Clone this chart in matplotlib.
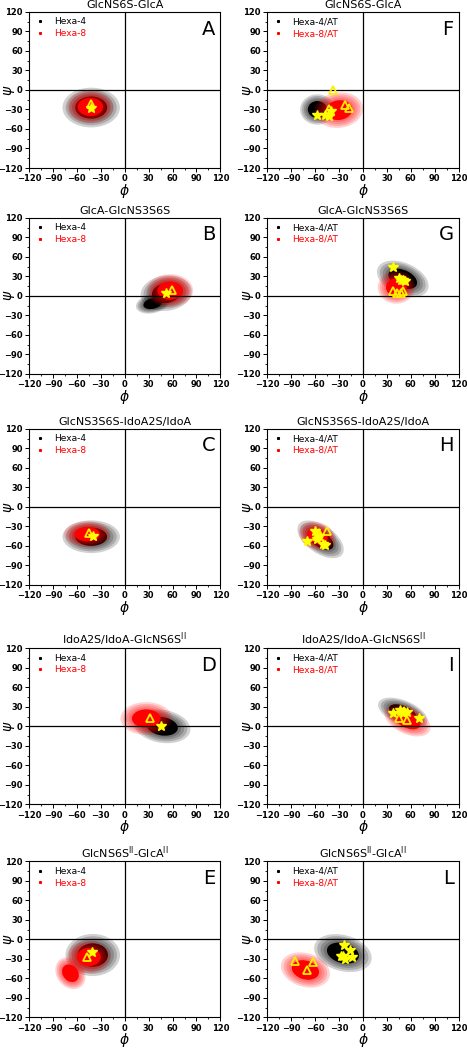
import matplotlib
matplotlib.use("Agg")
import matplotlib.pyplot as plt
from matplotlib.patches import Ellipse
from matplotlib.lines import Line2D

# panel order: A, B, C, D, E (left column), F, G, H, I, L (right column)
letters = ["A", "B", "C", "D", "E", "F", "G", "H", "I", "L"]
titles = ["GlcNS6S-GlcA", "GlcA-GlcNS3S6S", "GlcNS3S6S-IdoA2S/IdoA",
          r"IdoA2S/IdoA-GlcNS6S$^{\mathrm{II}}$", r"GlcNS6S$^{\mathrm{II}}$-GlcA$^{\mathrm{II}}$"] * 2
legend_left = ["Hexa-4", "Hexa-8"]
legend_right = ["Hexa-4/AT", "Hexa-8/AT"]

# clouds: (phi centre, psi centre, phi dense half-width, psi dense half-width, tilt deg)
black_clouds = [
    [(-42, -27, 20, 17, 0)],
    [(52, 4, 18, 15, 15), (35, -12, 12, 8, 20)],
    [(-42, -46, 20, 14, 0)],
    [(47, 0, 20, 14, -15)],
    [(-40, -24, 19, 18, 0)],
    [(-57, -30, 12, 13, 0)],
    [(50, 26, 20, 13, -35)],
    [(-53, -50, 20, 11, -45)],
    [(50, 21, 19, 10, -30)],
    [(-25, -21, 21, 15, -25)],
]
red_clouds = [
    [(-43, -26, 16, 14, 0)],
    [(57, 8, 16, 14, 0)],
    [(-47, -42, 16, 11, 0)],
    [(27, 12, 18, 14, 0)],
    [(-45, -27, 15, 14, 0), (-68, -52, 10, 14, 20)],
    [(-30, -31, 17, 15, 20)],
    [(42, 13, 13, 14, 0)],
    [(-57, -45, 14, 11, -40)],
    [(56, 9, 18, 11, -35)],
    [(-72, -47, 18, 14, -30)],
]
star_phi = [[-42], [52], [-40], [45], [-41],
            [-58, -48, -43, -40], [38, 45, 50, 53, 48],
            [-70, -60, -57, -50, -47, -55], [38, 46, 50, 55, 70],
            [-24, -16, -25, -23, -14, -27]]
star_psi = [[-27], [5], [-45], [1], [-19],
            [-38, -38, -40, -33], [45, 27, 25, 23, 24],
            [-52, -37, -50, -57, -58, -45], [21, 25, 20, 22, 12],
            [-8, -17, -25, -30, -27, -26]]
tri_phi = [[-42], [59], [-45], [32], [-47],
           [-37, -23, -17, -42], [38, 43, 48, 50],
           [-55, -45, -58], [45, 55, 52],
           [-85, -63, -70]]
tri_psi = [[-22], [9], [-40], [12], [-27],
           [0, -23, -27, -30], [7, 5, 5, 8],
           [-40, -37, -45], [12, 10, 23],
           [-33, -35, -47]]

lefts = [0.062, 0.572]
bottoms = [0.840, 0.644, 0.443, 0.234, 0.031]
w, h = 0.41, 0.1486

fringe = [1.8, 1.6, 1.4, 1.2]


def draw_cloud(ax, clouds, color):
    for cx, cy, sx, sy, ang in clouds:
        for s in fringe:
            ax.add_patch(Ellipse((cx, cy), 2 * sx * s, 2 * sy * s, angle=ang,
                                 facecolor=color, edgecolor="none", alpha=0.18))
        ax.add_patch(Ellipse((cx, cy), 2 * sx, 2 * sy, angle=ang,
                             facecolor=color, edgecolor="none", alpha=1.0))


fig = plt.figure(figsize=(4.67, 10.5), dpi=100)

for i in range(10):
    col = i // 5
    row = i % 5
    ax = fig.add_axes([lefts[col], bottoms[row], w, h])
    draw_cloud(ax, black_clouds[i], "black")
    draw_cloud(ax, red_clouds[i], "#ff0000")
    ax.axhline(0, color="black", lw=0.9)
    ax.axvline(0, color="black", lw=0.9)
    ax.plot(tri_phi[i], tri_psi[i], "^", ms=6, mfc="none", mec="#ffee00", mew=1.3, ls="none")
    ax.plot(star_phi[i], star_psi[i], "*", ms=7, color="#ffff00", ls="none")
    ax.set_xlim(-120, 120)
    ax.set_ylim(-120, 120)
    ax.set_xticks(range(-120, 121, 30))
    ax.set_yticks(range(-120, 121, 30))
    ax.set_xticks(range(-120, 121, 15), minor=True)
    ax.set_yticks(range(-120, 121, 15), minor=True)
    ax.tick_params(labelsize=6, direction="out", length=3, width=0.7, pad=1.5)
    ax.tick_params(which="minor", direction="out", length=1.5, width=0.6)
    for lab in ax.get_xticklabels() + ax.get_yticklabels():
        lab.set_fontweight("bold")
    ax.set_xlabel(r"$\phi$", fontsize=10)
    ax.xaxis.set_label_coords(0.5, -0.088)
    ax.set_ylabel(r"$\psi$", fontsize=10)
    ax.yaxis.set_label_coords(-0.06, 0.5)
    ax.set_title(titles[i], fontsize=8, pad=3)
    ax.text(0.975, 0.89, letters[i], transform=ax.transAxes, fontsize=14,
            ha="right", va="center")
    names = legend_right if col else legend_left
    handles = [Line2D([], [], marker="s", ms=1.2, color="black", ls="none"),
               Line2D([], [], marker="s", ms=1.2, color="#ff0000", ls="none")]
    leg = ax.legend(handles, names, loc="upper left", fontsize=6.5, frameon=False,
                    handlelength=1.2, handletextpad=1.0, borderaxespad=0.2, labelspacing=0.3)
    leg.get_texts()[1].set_color("#ff0000")

fig.savefig("out.png", dpi=100)
